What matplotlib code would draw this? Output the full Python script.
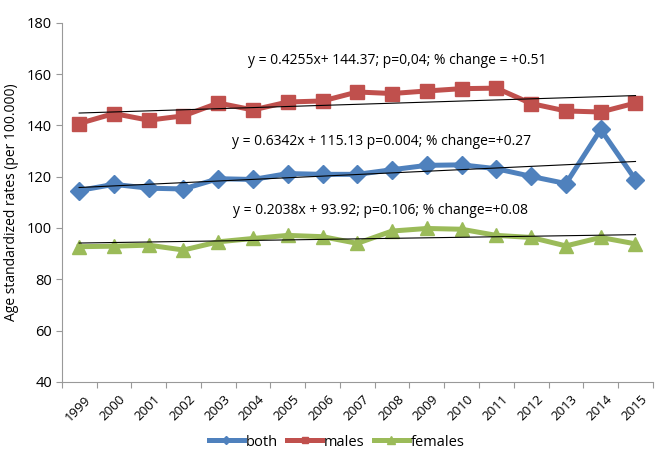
import matplotlib.pyplot as plt
import matplotlib.transforms as mtransforms
import numpy as np

plt.rcParams['font.family'] = ['Open Sans', 'DejaVu Sans']

years = [str(y) for y in range(1999, 2016)]
both = [114.6, 117.0, 115.5, 115.2, 119.2, 118.9, 121.2, 120.9, 120.9, 122.7, 124.4, 124.6, 123.1, 120.1, 117.3, 138.4, 118.8]
males = [140.7, 144.6, 142.0, 143.7, 148.7, 146.0, 149.1, 149.5, 153.0, 152.4, 153.4, 154.3, 154.5, 148.5, 145.6, 145.2, 148.7]
females = [92.7, 92.9, 93.3, 91.4, 94.6, 95.9, 97.1, 96.6, 94.0, 98.8, 99.8, 99.5, 97.1, 96.3, 93.0, 96.3, 93.8]

# trend line coefficients (slope, intercept) from the equations, x = 1..17
trend_both = (0.6342, 115.13)
trend_males = (0.4255, 144.37)
trend_females = (0.2038, 93.92)

labels_eq = [
    "y = 0.4255x+ 144.37; p=0,04; % change = +0.51",
    "y = 0.6342x + 115.13 p=0.004; % change=+0.27",
    "y = 0.2038x + 93.92; p=0.106; % change=+0.08",
]

blue = '#4F81BD'
red = '#C0504D'
green = '#9BBB59'

fig = plt.figure(figsize=(6.71, 4.59), dpi=100)
ax = fig.add_axes([0.092, 0.168, 0.881, 0.7825])

x = np.arange(len(years))
xr = x + 1

ax.plot(x, both, color=blue, lw=3.6, marker='D', ms=9, label='both', zorder=3)
ax.plot(x, males, color=red, lw=3.6, marker='s', ms=10, label='males', zorder=3)
ax.plot(x, females, color=green, lw=3.6, marker='^', ms=10.5, label='females', zorder=3)

for a, b in (trend_males, trend_both, trend_females):
    ax.plot(x, a * xr + b, color='black', lw=0.8, zorder=4)

ax.text(0.567, 0.896, labels_eq[0], transform=ax.transAxes, ha='center', va='center', fontsize=10)
ax.text(0.541, 0.668, labels_eq[1], transform=ax.transAxes, ha='center', va='center', fontsize=10)
ax.text(0.540, 0.477, labels_eq[2], transform=ax.transAxes, ha='center', va='center', fontsize=10)

ax.set_ylim(40, 180)
ax.set_yticks(range(40, 181, 20))
ax.set_xlim(-0.5, len(years) - 0.5)
ax.set_xticks(np.arange(-0.5, len(years), 1))
ax.set_xticklabels([])
ax.set_xticks(x, minor=True)
ax.set_xticklabels(years, minor=True, rotation=45, ha='right', rotation_mode='anchor')
ax.tick_params(axis='x', which='minor', length=0, pad=8, labelsize=9.5)
ax.tick_params(axis='x', which='major', length=4, color='#999999')
ax.tick_params(axis='y', length=4, color='#999999', labelsize=10.5, pad=3)

# nudge the year labels a little to the right like the original
shift = mtransforms.ScaledTranslation(5 / 100, 0, fig.dpi_scale_trans)
for lab in ax.get_xticklabels(minor=True):
    lab.set_transform(lab.get_transform() + shift)

ax.spines['top'].set_visible(False)
ax.spines['right'].set_visible(False)
ax.spines['left'].set_color('#999999')
ax.spines['bottom'].set_color('#999999')

ax.set_ylabel('Age standardized rates (per 100.000)', fontsize=10, labelpad=6)

fig.legend(loc='center', bbox_to_anchor=(0.502, 0.037), ncol=3, frameon=False,
           fontsize=10.5, handlelength=2.4, handletextpad=0.15, columnspacing=0.6,
           markerscale=0.5)

fig.savefig('out.png', dpi=100)
